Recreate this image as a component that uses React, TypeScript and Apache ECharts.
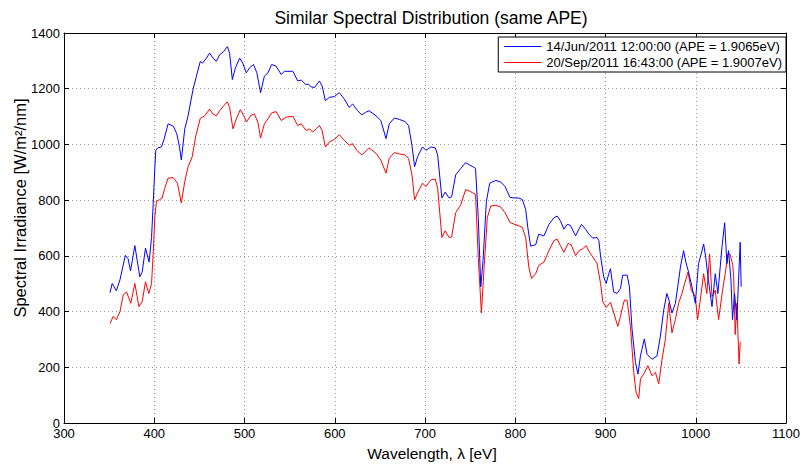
import React, { useEffect, useRef } from "react";
import * as echarts from "echarts";

const xTicks = [300, 400, 500, 600, 700, 800, 900, 1000, 1100];
const yTicks = [0, 200, 400, 600, 800, 1000, 1200, 1400];

const seriesNames = [
  "14/Jun/2011 12:00:00 (APE = 1.9065eV)",
  "20/Sep/2011 16:43:00 (APE = 1.9007eV)",
];

const blueWl = [
  351, 353.4, 358, 362, 365.6, 368, 371, 373.7, 378.5, 384, 386.6, 390.3, 394.3, 397, 398.8, 400.6, 401.7, 404, 408, 411,
  415.3, 421, 425, 428, 430, 433.8, 437.5, 443, 446.7, 451, 453.5, 457.8, 461.4, 465, 468.8, 472.5, 477, 481, 483.5, 486.5,
  490, 494.6, 498, 502, 505.6, 510, 513.7, 517.8, 522, 526, 530, 535, 540.7, 544.3, 548, 553.5, 559, 562.8, 567.5, 571,
  573.8, 577.5, 583, 586, 589.6, 594, 599.6, 605, 610.6, 616, 619.8, 625.4, 630, 634, 638, 645.7, 651, 656.8, 660.4, 666,
  671.5, 678, 681.8, 685.5, 688.5, 691.7, 697.3, 701, 706.5, 711.3, 714, 718.7, 722.3, 726.7, 729.5, 734, 739.7, 745, 749.6, 753,
  756, 759, 761.8, 764.3, 768, 771.7, 778.4, 784, 788.7, 794.2, 798.6, 804, 807.8, 811.5, 814, 817, 822.6, 826, 831.8, 837.3,
  842.8, 846.5, 850, 853.9, 857.5, 861, 866.8, 870.5, 873.4, 877.9, 881.5, 886, 890.7, 892.6, 894.5, 898, 900.7, 903.6, 905.5, 909,
  912.8, 916.6, 919, 924, 926.5, 929.4, 933.2, 936, 938.7, 940.4, 943, 946, 951.5, 957, 960.8, 964.5, 968, 970, 973.6, 977.4,
  980, 983, 986.5, 989, 992, 995.8, 999.5, 1003, 1006, 1008.7, 1011, 1014, 1018, 1021.6, 1024.5, 1029, 1032, 1034.5, 1036.3, 1039,
  1040.7, 1043, 1045.5, 1047.4, 1049.2, 1050.3,
];
const blueVal = [
  468, 501, 475, 514, 567, 602, 590, 546, 637, 525, 542, 628, 578, 666, 784, 914, 979, 988, 991, 1020,
  1074, 1066, 1038, 990, 944, 1056, 1103, 1198, 1245, 1298, 1292, 1310, 1328, 1310, 1298, 1322, 1334, 1351, 1328, 1233,
  1275, 1310, 1292, 1257, 1275, 1287, 1257, 1186, 1245, 1257, 1287, 1281, 1251, 1263, 1262, 1263, 1228, 1231, 1216, 1216,
  1207, 1204, 1228, 1210, 1157, 1169, 1172, 1186, 1163, 1133, 1145, 1121, 1106, 1115, 1121, 1103, 1086, 1021, 1074, 1095,
  1090, 1082, 1068, 997, 920, 956, 991, 979, 991, 988, 962, 808, 829, 808, 812, 891, 914, 935, 926, 920,
  914, 737, 489, 584, 796, 861, 871, 865, 849, 810, 808, 808, 802, 767, 700, 635, 640, 678, 672, 713,
  737, 743, 726, 696, 713, 710, 672, 696, 713, 696, 678, 664, 666, 655, 600, 525, 501, 536, 554, 471,
  465, 483, 531, 531, 489, 336, 218, 176, 241, 265, 302, 247, 229, 241, 312, 406, 465, 445, 395, 430,
  489, 560, 619, 578, 542, 489, 430, 572, 607, 643, 596, 513, 418, 536, 465, 631, 719, 572, 619, 513,
  371, 465, 371, 513, 649, 489,
];

const redWl = [
  351, 354.5, 358, 362, 365.6, 369.3, 374, 378.5, 383, 386.6, 390.3, 394, 397, 398.8, 400.6, 402.5, 406, 408.7, 411.7, 415.3,
  421, 425.7, 430, 433.8, 437.5, 442, 446, 451, 456, 461.4, 465, 468.8, 472.5, 477, 481, 483.5, 487.2, 491, 495.4, 500,
  502, 507.5, 511, 514.8, 517.8, 522, 526, 530, 535, 540.7, 546.2, 553.5, 559, 562.8, 568.3, 572, 575.6, 579.3, 583, 586,
  589.6, 594, 599.6, 605, 610.6, 616, 619.8, 624.3, 630, 638, 645.7, 651, 656.8, 660.4, 666, 671.5, 678, 681.8, 685.5, 688.5,
  691.7, 697.3, 701, 706.5, 711.3, 714, 718.7, 722.3, 726.7, 729.5, 734, 739.7, 745, 749.6, 753, 756, 759, 762.5, 765.5, 769,
  772.8, 778.4, 784, 788.7, 794.2, 798.6, 804, 807.8, 811.5, 815, 818, 822.6, 826, 831.8, 837.3, 842.8, 846.5, 850, 853.9, 858.6,
  862, 866.8, 870.5, 874.5, 878.6, 882.3, 886, 890.7, 894.5, 897, 900.7, 905.5, 909.2, 913.6, 916.6, 919, 921, 924, 927.6, 931.3,
  933.8, 936.8, 938.7, 942.3, 947, 951.5, 955.3, 959, 962.6, 966.3, 970, 973.6, 977.4, 981, 984.7, 987.7, 991.4, 995, 999.5, 1002,
  1005, 1008.7, 1012.3, 1015.3, 1018, 1021.6, 1025.3, 1029.7, 1032.6, 1035.6, 1038, 1041, 1042, 1043.7, 1045.5, 1048, 1049.2, 1050.3,
];
const redVal = [
  357, 383, 371, 400, 460, 471, 430, 501, 418, 436, 507, 465, 501, 607, 737, 796, 802, 808, 843, 879,
  881, 861, 790, 867, 920, 955, 1030, 1094, 1103, 1127, 1109, 1103, 1121, 1139, 1153, 1133, 1056, 1092, 1125, 1098,
  1080, 1106, 1109, 1080, 1023, 1074, 1092, 1113, 1118, 1086, 1098, 1101, 1068, 1074, 1050, 1056, 1044, 1056, 1068, 1050,
  991, 1009, 1018, 1035, 1015, 997, 1003, 979, 962, 988, 968, 944, 897, 950, 971, 966, 962, 950, 891, 802,
  826, 861, 849, 873, 876, 843, 666, 690, 666, 668, 755, 784, 838, 832, 826, 820, 595, 395, 560, 737,
  779, 782, 775, 755, 720, 714, 708, 702, 666, 560, 519, 536, 566, 578, 619, 655, 660, 637, 613, 645,
  640, 601, 619, 625, 637, 613, 596, 572, 501, 436, 415, 433, 395, 347, 383, 418, 442, 440, 347, 182,
  111, 88, 158, 176, 206, 170, 182, 141, 229, 300, 430, 324, 371, 430, 465, 501, 542, 477, 454, 371,
  442, 536, 465, 607, 454, 477, 371, 477, 536, 607, 607, 566, 525, 318, 430, 212, 288, 290,
];

const FONT = "Liberation Sans, Arial, sans-serif";

export default function App() {
  const ref = useRef<HTMLDivElement>(null);
  useEffect(() => {
    if (!ref.current) return;
    const chart = echarts.init(ref.current, null, { renderer: "svg" });
    const blueData = blueWl.map((x, i) => [x, blueVal[i]]);
    const redData = redWl.map((x, i) => [x, redVal[i]]);
    const xMin = xTicks[0];
    const xMax = xTicks[xTicks.length - 1];
    const yMin = yTicks[0];
    const yMax = yTicks[yTicks.length - 1];
    const plain = (v: number) => String(v);
    const common = {
      axisLine: { show: true, onZero: false, lineStyle: { color: "#000", width: 1 } },
      axisTick: { show: true, inside: true, length: 5, lineStyle: { color: "#000" } },
    };
    chart.setOption({
      animation: false,
      backgroundColor: "#fff",
      textStyle: { fontFamily: FONT },
      title: {
        text: "Similar Spectral Distribution (same APE)",
        left: 426,
        top: 4,
        textAlign: "center",
        textStyle: { fontFamily: FONT, fontSize: 17.5, fontWeight: "normal", color: "#000" },
      },
      graphic: [
        {
          type: "text",
          x: 20,
          y: 208,
          rotation: Math.PI / 2,
          style: {
            text: "Spectral Irradiance [W/m²/nm]",
            fontFamily: FONT,
            fontSize: 16.5,
            fill: "#000",
            align: "center",
            verticalAlign: "middle",
          },
        },
      ],
      grid: { left: 64, right: 16, top: 33, bottom: 38 },
      legend: {
        orient: "vertical",
        right: 17,
        top: 37,
        data: seriesNames,
        icon: "rect",
        backgroundColor: "#fff",
        borderColor: "#000",
        borderWidth: 1,
        borderRadius: 0,
        padding: [3, 4, 3, 6],
        itemGap: 3,
        itemWidth: 37,
        itemHeight: 1,
        textStyle: { fontFamily: FONT, fontSize: 13, color: "#000" },
      },
      xAxis: [
        {
          type: "value",
          min: xMin,
          max: xMax,
          interval: 100,
          position: "bottom",
          ...common,
          axisLabel: { color: "#000", fontSize: 13, fontFamily: FONT, margin: 4, formatter: plain },
          splitLine: { show: true, lineStyle: { color: "#999", type: [1, 3], width: 1 } },
          name: "Wavelength, λ [eV]",
          nameLocation: "middle",
          nameGap: 18,
          nameTextStyle: { color: "#000", fontSize: 15.5, fontFamily: FONT, padding: [0, 0, 0, 14] },
        },
        {
          type: "value",
          min: xMin,
          max: xMax,
          interval: 100,
          position: "top",
          ...common,
          axisLabel: { show: false },
          splitLine: { show: false },
        },
      ],
      yAxis: [
        {
          type: "value",
          min: yMin,
          max: yMax,
          interval: 200,
          position: "left",
          ...common,
          axisLabel: { color: "#000", fontSize: 13, fontFamily: FONT, margin: 4, formatter: plain },
          splitLine: { show: true, lineStyle: { color: "#999", type: [1, 3], width: 1 } },
        },
        {
          type: "value",
          min: yMin,
          max: yMax,
          interval: 200,
          position: "right",
          ...common,
          axisLabel: { show: false },
          splitLine: { show: false },
        },
      ],
      series: [
        {
          name: seriesNames[0],
          type: "line",
          data: blueData,
          showSymbol: false,
          symbol: "none",
          lineStyle: { color: "#0000ff", width: 1 },
          itemStyle: { color: "#0000ff" },
          z: 3,
        },
        {
          name: seriesNames[1],
          type: "line",
          data: redData,
          showSymbol: false,
          symbol: "none",
          lineStyle: { color: "#ff0000", width: 1 },
          itemStyle: { color: "#ff0000" },
          z: 2,
        },
      ],
    });
    return () => chart.dispose();
  }, []);
  return (
    <div
      ref={ref}
      style={{ position: "fixed", left: 0, top: 0, width: 803, height: 466 }}
    />
  );
}
